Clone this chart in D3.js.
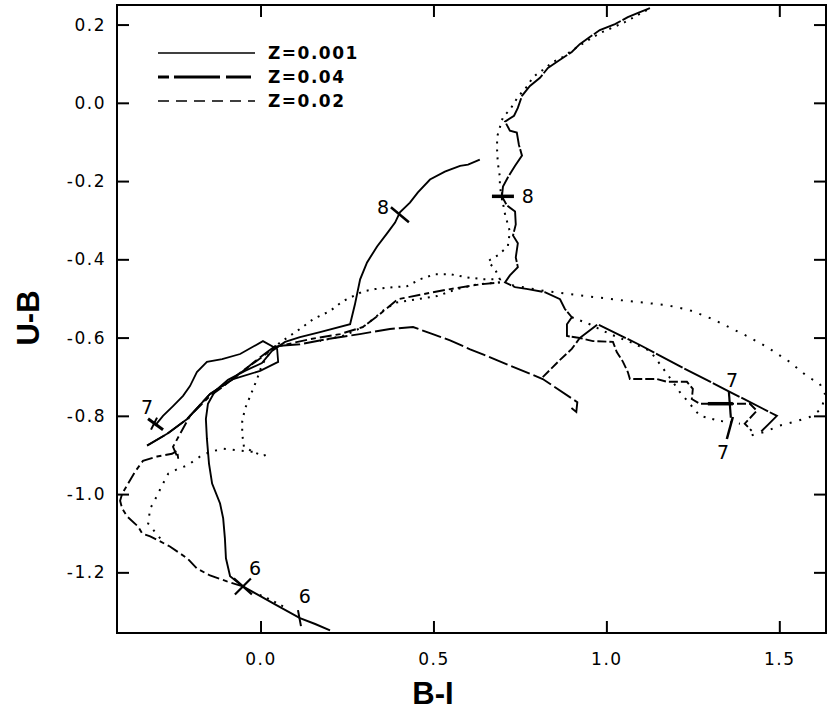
<!DOCTYPE html>
<html><head><meta charset="utf-8">
<script src="https://cdn.jsdelivr.net/npm/d3@7"></script>
<style>body{margin:0;background:#fff}svg{display:block}</style>
</head><body>
<script>
// ---- data (B-I, U-B) ----
const xTicks = [0.0, 0.5, 1.0, 1.5];
const yTicks = [0.2, 0.0, -0.2, -0.4, -0.6, -0.8, -1.0, -1.2];
const legendLabels = ["Z=0.001", "Z=0.04", "Z=0.02"];

const trackSolidA = [[0.201,-1.348],[0.158,-1.332],[0.114,-1.317],[0.042,-1.282],[-0.016,-1.253],[-0.051,-1.236],[-0.088,-1.210],[-0.100,-1.164],[-0.103,-1.113],[-0.108,-1.062],[-0.117,-1.024],[-0.140,-0.973],[-0.149,-0.922],[-0.155,-0.859],[-0.158,-0.808],[-0.152,-0.769],[-0.131,-0.736],[-0.094,-0.708],[-0.045,-0.685],[0.004,-0.665],[0.033,-0.634],[0.071,-0.611],[0.114,-0.599],[0.172,-0.586],[0.259,-0.566],[0.273,-0.515],[0.288,-0.451],[0.308,-0.408],[0.337,-0.367],[0.368,-0.331],[0.389,-0.306],[0.403,-0.280],[0.432,-0.255],[0.455,-0.229],[0.490,-0.196],[0.533,-0.176],[0.550,-0.170],[0.577,-0.161],[0.600,-0.158],[0.634,-0.145]];
const trackSolidB = [[1.126,0.242],[1.097,0.232],[1.062,0.219],[1.025,0.201],[0.981,0.186],[0.952,0.168],[0.923,0.150],[0.900,0.130],[0.866,0.110],[0.831,0.089],[0.808,0.064],[0.779,0.043],[0.756,0.018],[0.744,-0.013],[0.733,-0.033],[0.707,-0.048],[0.721,-0.071],[0.741,-0.076],[0.747,-0.107],[0.756,-0.135],[0.736,-0.161],[0.715,-0.191],[0.701,-0.214],[0.698,-0.239],[0.712,-0.262],[0.736,-0.278],[0.738,-0.311],[0.730,-0.339],[0.744,-0.359],[0.738,-0.395],[0.744,-0.420],[0.721,-0.441],[0.707,-0.459],[0.736,-0.471],[0.773,-0.476],[0.822,-0.484],[0.866,-0.502],[0.880,-0.527],[0.900,-0.548],[0.886,-0.566],[0.886,-0.596],[0.923,-0.601],[0.975,-0.566],[1.097,-0.619],[1.212,-0.673],[1.351,-0.736],[1.493,-0.800],[1.467,-0.823],[1.444,-0.843]];
const trackSolidC = [[-0.305,-0.825],[-0.282,-0.800],[-0.253,-0.775],[-0.224,-0.749],[-0.204,-0.724],[-0.184,-0.688],[-0.155,-0.662],[-0.111,-0.655],[-0.059,-0.642],[0.007,-0.609],[0.048,-0.629],[0.051,-0.662],[-0.001,-0.685],[-0.079,-0.706],[-0.146,-0.744],[-0.212,-0.808],[-0.270,-0.846],[-0.328,-0.876]];
const trackDashA = [[0.816,-0.701],[0.866,-0.657],[0.900,-0.629],[0.923,-0.601],[0.961,-0.609],[1.019,-0.611],[1.030,-0.637],[1.048,-0.662],[1.062,-0.688],[1.068,-0.706],[1.146,-0.706],[1.175,-0.713],[1.233,-0.713],[1.250,-0.731],[1.247,-0.757],[1.270,-0.769],[1.357,-0.769],[1.415,-0.769],[1.435,-0.787],[1.400,-0.820],[1.420,-0.838]];
const trackDashB = [[-0.328,-0.876],[-0.270,-0.846],[-0.212,-0.808],[-0.146,-0.744],[-0.079,-0.706],[-0.001,-0.650],[0.042,-0.622],[0.114,-0.617],[0.192,-0.604],[0.287,-0.591],[0.374,-0.578],[0.441,-0.573],[0.498,-0.591],[0.548,-0.607],[0.606,-0.630],[0.643,-0.643],[0.816,-0.706],[0.916,-0.765],[0.913,-0.790],[0.899,-0.780]];
const trackLongDash = [[-0.051,-1.236],[-0.097,-1.223],[-0.146,-1.208],[-0.184,-1.190],[-0.212,-1.164],[-0.262,-1.134],[-0.290,-1.121],[-0.319,-1.108],[-0.342,-1.101],[-0.354,-1.083],[-0.386,-1.057],[-0.400,-1.037],[-0.406,-1.017],[-0.400,-0.999],[-0.386,-0.978],[-0.363,-0.943],[-0.340,-0.915],[-0.299,-0.904],[-0.256,-0.897],[-0.241,-0.889],[-0.238,-0.910],[-0.253,-0.879],[-0.204,-0.800],[-0.146,-0.749],[-0.117,-0.731],[-0.059,-0.690],[0.004,-0.650],[0.042,-0.624],[0.143,-0.604],[0.230,-0.591],[0.296,-0.573],[0.345,-0.540],[0.397,-0.502],[0.470,-0.489],[0.548,-0.476],[0.634,-0.464],[0.692,-0.459]];
const trackDotA = [[1.117,0.237],[1.053,0.206],[0.981,0.178],[0.938,0.155],[0.903,0.135],[0.874,0.117],[0.845,0.104],[0.816,0.084],[0.788,0.066],[0.770,0.041],[0.744,0.015],[0.721,-0.018],[0.701,-0.036],[0.684,-0.087],[0.684,-0.120],[0.686,-0.153],[0.692,-0.189],[0.692,-0.214],[0.707,-0.285],[0.721,-0.329],[0.715,-0.367],[0.686,-0.390],[0.657,-0.405],[0.678,-0.425],[0.692,-0.451],[0.643,-0.451],[0.597,-0.446],[0.548,-0.438],[0.504,-0.438],[0.461,-0.451],[0.423,-0.469],[0.383,-0.471],[0.331,-0.476],[0.296,-0.482],[0.238,-0.507],[0.201,-0.532],[0.152,-0.553],[0.114,-0.578],[0.071,-0.604],[0.042,-0.622],[0.022,-0.645],[0.004,-0.670],[-0.010,-0.706],[-0.025,-0.739],[-0.045,-0.782],[-0.053,-0.815],[-0.053,-0.846],[-0.048,-0.879],[-0.022,-0.892],[0.007,-0.902],[0.027,-0.897]];
const trackDotB = [[0.692,-0.459],[0.626,-0.464],[0.568,-0.476],[0.510,-0.494],[0.452,-0.502],[0.395,-0.510],[0.360,-0.527],[0.325,-0.553],[0.296,-0.573],[0.244,-0.594],[0.172,-0.609]];
const trackDotC = [[0.727,-0.466],[0.808,-0.479],[0.923,-0.492],[1.068,-0.507],[1.175,-0.517],[1.241,-0.530],[1.308,-0.553],[1.406,-0.596],[1.464,-0.624],[1.530,-0.662],[1.579,-0.698],[1.617,-0.718],[1.632,-0.744],[1.623,-0.782],[1.588,-0.803],[1.545,-0.815],[1.501,-0.825],[1.458,-0.841],[1.415,-0.851]];
const trackDotD = [[0.900,-0.548],[0.952,-0.566],[1.010,-0.591],[1.068,-0.611],[1.126,-0.634],[1.155,-0.668],[1.192,-0.713],[1.212,-0.739],[1.241,-0.769],[1.270,-0.800],[1.328,-0.813],[1.386,-0.820]];
const trackDotE = [[-0.290,-1.113],[-0.325,-1.075],[-0.319,-1.037],[-0.299,-1.004],[-0.285,-0.978],[-0.267,-0.948],[-0.238,-0.935],[-0.212,-0.927],[-0.175,-0.904],[-0.146,-0.892],[-0.108,-0.884],[-0.059,-0.889],[-0.022,-0.892]];
const trackDotF = [[0.065,-1.287],[0.027,-1.269],[-0.007,-1.256]];

// age markers: position on track, label, label position
const markerX = [0.114, -0.051, -0.305, 1.357, 1.357, 0.403, 0.698];
const markerY = [-1.317, -1.236, -0.820, -0.769, -0.831, -0.285, -0.239];
const markerLabels = ["6", "6", "7", "7", "7", "8", "8"];
const markerLabelX = [0.128, -0.016, -0.328, 1.363, 1.337, 0.354, 0.773];
const markerLabelY = [-1.261, -1.190, -0.777, -0.708, -0.892, -0.265, -0.237];

// ---- layout / styles ----
const W = 830, H = 715;
const L = 117, R = 826, T = 5, B = 633;
const svg = d3.select("body").append("svg").attr("width", W).attr("height", H);
const x = d3.scaleLinear().domain([-0.415, 1.635]).range([L, R]);
const y = d3.scaleLinear().domain([-1.355, 0.25]).range([B, T]);

const FONT = "'DejaVu Sans', sans-serif";
const line = d3.line().x(d => x(d[0])).y(d => y(d[1]));
svg.append("clipPath").attr("id", "c").append("rect")
  .attr("x", L).attr("y", T).attr("width", R - L).attr("height", B - T);
const g = svg.append("g").attr("clip-path", "url(#c)");

const styles = [
  [trackSolidA, null, 1.9],
  [trackSolidB, "30,2", 1.9],
  [trackSolidC, null, 1.8],
  [trackDashA, "9,3", 1.9],
  [trackDashB, "20,4", 1.9],
  [trackLongDash, "12,4,5,4", 1.9],
  [trackDotA, "2,6", 2],
  [trackDotB, "2,6", 2],
  [trackDotC, "2,8", 2],
  [trackDotD, "2,7", 2],
  [trackDotE, "2,7", 2],
  [trackDotF, "2,6", 2]
];
styles.forEach(([d, dash, w]) => {
  g.append("path").datum(d).attr("d", line).attr("fill", "none")
    .attr("stroke", "#000").attr("stroke-width", w)
    .attr("stroke-dasharray", dash);
});

// marker glyphs (pixel offsets)
const glyphs = [
  [[[-2,-8],[1,8]], 2],
  [[[-9,-8],[9,8]], 2.2, [[-8,8],[8,-8]], 2.2],
  [[[-7,-5],[8,6]], 3, [[-4,6],[2,-6]], 2],
  [[[-22,0],[3,0]], 3.5, [[-1,-12],[1,14]], 2.2],
  [[[3,-11],[-3,11]], 2.5],
  [[[-9,-7],[9,8]], 2.5],
  [[[-10,0],[12,0]], 3.5, [[0,-4],[0,4]], 2]
];
markerX.forEach((mx, i) => {
  const cx = x(mx), cy = y(markerY[i]);
  const gl = glyphs[i];
  for (let k = 0; k < gl.length; k += 2) {
    const seg = gl[k];
    g.append("line").attr("x1", cx + seg[0][0]).attr("y1", cy + seg[0][1])
      .attr("x2", cx + seg[1][0]).attr("y2", cy + seg[1][1])
      .attr("stroke", "#000").attr("stroke-width", gl[k + 1]);
  }
  svg.append("text").attr("x", x(markerLabelX[i])).attr("y", y(markerLabelY[i]))
    .attr("text-anchor", "middle").attr("dominant-baseline", "central")
    .attr("font-family", FONT).attr("font-size", 19).text(markerLabels[i]);
});

// frame
svg.append("rect").attr("x", L).attr("y", T).attr("width", R - L).attr("height", B - T)
  .attr("fill", "none").attr("stroke", "#000").attr("stroke-width", 2);

// axes (ticks inward, mirrored)
const tl = 12;
const fmt = d => d3.format(".1f")(d).replace("−", "-");
const axB = svg.append("g").attr("transform", `translate(0,${B})`)
  .call(d3.axisBottom(x).tickValues(xTicks).tickSize(-tl).tickPadding(20).tickFormat(fmt));
const axT = svg.append("g").attr("transform", `translate(0,${T})`)
  .call(d3.axisTop(x).tickValues(xTicks).tickSize(-tl).tickFormat(""));
const axL = svg.append("g").attr("transform", `translate(${L},0)`)
  .call(d3.axisLeft(y).tickValues(yTicks).tickSize(-tl).tickPadding(11).tickFormat(fmt));
const axR = svg.append("g").attr("transform", `translate(${R},0)`)
  .call(d3.axisRight(y).tickValues(yTicks).tickSize(-tl).tickFormat(""));
[axB, axT, axL, axR].forEach(a => {
  a.select(".domain").remove();
  a.selectAll(".tick line").attr("stroke", "#000").attr("stroke-width", 2);
  a.selectAll("text").attr("font-family", FONT).attr("font-size", 17).attr("fill", "#000")
    .attr("letter-spacing", 1.5);
});

// axis titles
svg.append("text").attr("x", 433).attr("y", 704).attr("text-anchor", "middle")
  .attr("font-family", "'Liberation Sans', Arial, sans-serif").attr("font-weight", "bold")
  .attr("font-size", 31).text("B-I");
svg.append("text").attr("transform", "translate(39,318) rotate(-90)").attr("text-anchor", "middle")
  .attr("font-family", "'Liberation Sans', Arial, sans-serif").attr("font-weight", "bold")
  .attr("font-size", 31).text("U-B");

// legend
const legDash = [null, "11,5,46,6,14,0", "11,7"];
const legW = [1.5, 3, 1.5];
legendLabels.forEach((lab, i) => {
  const ly = 53 + i * 24;
  svg.append("line").attr("x1", 158).attr("x2", 255).attr("y1", ly).attr("y2", ly)
    .attr("stroke", "#000").attr("stroke-width", legW[i]).attr("stroke-dasharray", legDash[i]);
  svg.append("text").attr("x", 268).attr("y", ly).attr("dominant-baseline", "central")
    .attr("font-family", FONT).attr("font-weight", "bold").attr("font-size", 17)
    .attr("letter-spacing", 1.5).text(lab);
});
</script>
</body></html>
